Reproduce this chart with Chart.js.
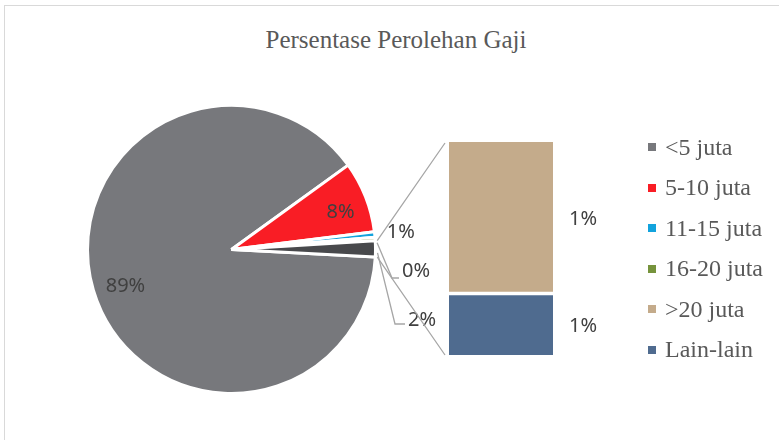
<!DOCTYPE html>
<html>
<head>
<meta charset="utf-8">
<script src="https://cdn.jsdelivr.net/npm/chart.js@4.4.0/dist/chart.umd.min.js"></script>
<style>
  body { margin: 0; background: #fff; overflow: hidden; }
  #wrap { position: relative; width: 779px; height: 440px; overflow: hidden; background: #fff; }
  #frame { position: absolute; left: 4px; top: 5px; width: 820px; height: 480px; border: 1px solid #d9d9d9; }
  #title { position: absolute; left: 0; width: 792px; top: 26px; text-align: center;
           font: 25px "Liberation Serif"; color: #595959; }
  #pieChart { position: absolute; left: 0; top: 0; }
  #barChart { position: absolute; left: 440px; top: 120px; }
  #legend { position: absolute; left: 648px; top: 127px; font: 24px "Liberation Serif"; color: #595959; }
  .item { height: 40.5px; display: flex; align-items: center; white-space: nowrap; }
  .sw { width: 8px; height: 8px; margin-right: 9px; flex: none; }
</style>
</head>
<body>
<div id="wrap">
  <div id="frame"></div>
  <div id="title">Persentase Perolehan Gaji</div>
  <canvas id="barChart" width="200" height="260"></canvas>
  <canvas id="pieChart" width="779" height="440"></canvas>
  <div id="legend"></div>
</div>
<script>
// data (percent of respondents)
const categories = ['<5 juta', '5-10 juta', '11-15 juta', '16-20 juta', '>20 juta', 'Lain-lain'];
const percentages = [89.2, 8.0, 0.6, 0.4, 1.28, 0.52];
const colors = ['#77787c', '#f91d25', '#12a3dd', '#76933c', '#c4ab8b', '#4f6b8f'];
const otherColor = '#48494c';
const mainCount = 4; // first four in the big pie, the rest go to the bar

const labelFont = '20px "Noto Sans"';
const labelColor = '#404040';
const lineColor = '#a6a6a6';

const pct = v => Math.round(v) + '%';

const pieValues = percentages.slice(0, mainCount);
const barValues = percentages.slice(mainCount);
const otherTotal = barValues.reduce((a, b) => a + b, 0);
pieValues.push(otherTotal);

// legend
const legendEl = document.getElementById('legend');
categories.forEach((c, i) => {
  const row = document.createElement('div');
  row.className = 'item';
  row.innerHTML = '<span class="sw" style="background:' + colors[i] + '"></span>';
  row.appendChild(document.createTextNode(c));
  legendEl.appendChild(row);
});

// secondary stacked bar
const barLabelPlugin = {
  id: 'barLabels',
  afterDatasetsDraw(chart) {
    const ctx = chart.ctx;
    ctx.save();
    ctx.font = labelFont;
    ctx.fillStyle = labelColor;
    ctx.textBaseline = 'middle';
    chart.data.datasets.forEach((ds, i) => {
      const bar = chart.getDatasetMeta(i).data[0];
      const p = bar.getProps(['x', 'y', 'base', 'width']);
      ctx.fillText(pct(ds.data[0]), p.x + p.width / 2 + 16, (p.y + p.base) / 2 + 2);
    });
    ctx.restore();
  }
};

const barChart = new Chart(document.getElementById('barChart'), {
  type: 'bar',
  data: {
    labels: ['Lainnya'],
    datasets: [
      { label: categories[5], data: [barValues[1]], backgroundColor: colors[5],
        borderColor: '#fff', borderWidth: { top: 2, bottom: 0, left: 0, right: 0 }, borderSkipped: false },
      { label: categories[4], data: [barValues[0]], backgroundColor: colors[4],
        borderColor: '#fff', borderWidth: { top: 0, bottom: 2, left: 0, right: 0 }, borderSkipped: false }
    ]
  },
  options: {
    responsive: false,
    animation: false,
    layout: { padding: { left: 9, right: 87, top: 22, bottom: 25 } },
    barPercentage: 1,
    categoryPercentage: 1,
    scales: {
      x: { stacked: true, display: false },
      y: { stacked: true, display: false, min: 0, max: otherTotal }
    },
    plugins: { legend: { display: false }, tooltip: { enabled: false } }
  },
  plugins: [barLabelPlugin]
});

// main pie: labels, leader lines and the lines to the bar
const pieLabelPlugin = {
  id: 'pieLabels',
  afterDatasetsDraw(chart) {
    const ctx = chart.ctx;
    const arcs = chart.getDatasetMeta(0).data;
    const vals = chart.data.datasets[0].data;
    const a0 = arcs[0].getProps(['x', 'y', 'outerRadius']);
    const cx = a0.x, cy = a0.y, R = a0.outerRadius;
    const at = (ang, r) => [cx + r * Math.cos(ang), cy + r * Math.sin(ang)];
    ctx.save();
    ctx.font = labelFont;
    ctx.fillStyle = labelColor;
    ctx.textBaseline = 'middle';

    // inside labels
    const nudge = [-0.049, 0.045];
    const rf = [0.78, 0.8];
    [0, 1].forEach(i => {
      const p = arcs[i].getProps(['startAngle', 'endAngle']);
      const [x, y] = at((p.startAngle + p.endAngle) / 2 + nudge[i], R * rf[i]);
      ctx.textAlign = 'center';
      ctx.fillText(pct(vals[i]), x, y);
    });

    // outside labels
    ctx.textAlign = 'left';
    ctx.strokeStyle = lineColor;
    ctx.lineWidth = 1.3;
    const mid = i => {
      const p = arcs[i].getProps(['startAngle', 'endAngle']);
      return (p.startAngle + p.endAngle) / 2;
    };
    // 11-15 juta
    let [x, y] = at(mid(2), R);
    ctx.fillText(pct(vals[2]), x + 12, y - 2);
    // 16-20 juta and the "other" slice, with leader lines
    const leaders = [
      { i: 3, ex: cx + 160.5, ey: cy + 28.5, len: 7, tx: 10, ty: -6.5 },
      { i: 4, ex: cx + 163.5, ey: cy + 74.5, len: 10, tx: 13, ty: -4 }
    ];
    leaders.forEach(l => {
      const [sx, sy] = at(mid(l.i), R + 2);
      ctx.beginPath();
      ctx.moveTo(sx, sy + 4);
      ctx.lineTo(l.ex, l.ey);
      ctx.lineTo(l.ex + l.len, l.ey);
      ctx.stroke();
      ctx.fillText(pct(vals[l.i]), l.ex + l.tx, l.ey + l.ty);
    });

    // connector lines to the bar
    const other = arcs[mainCount].getProps(['startAngle', 'endAngle']);
    const area = barChart.chartArea;
    const ox = barChart.canvas.offsetLeft, oy = barChart.canvas.offsetTop;
    const [ux, uy] = at(other.startAngle, R + 2);
    const [lx, ly] = at(other.endAngle, R + 2);
    ctx.beginPath();
    ctx.moveTo(ux, uy);
    ctx.lineTo(ox + area.left - 4, oy + area.top + 1);
    ctx.moveTo(lx, ly);
    ctx.lineTo(ox + area.left - 4, oy + area.bottom);
    ctx.stroke();
    ctx.restore();
  }
};

new Chart(document.getElementById('pieChart'), {
  type: 'pie',
  data: {
    labels: categories.slice(0, mainCount).concat(['Lainnya']),
    datasets: [{
      data: pieValues,
      backgroundColor: colors.slice(0, mainCount).concat([otherColor]),
      borderColor: '#fff',
      borderWidth: 3
    }]
  },
  options: {
    responsive: false,
    animation: false,
    rotation: 93,
    radius: 144,
    layout: { padding: { left: 0, right: 316, top: 59, bottom: 0 } },
    plugins: { legend: { display: false }, tooltip: { enabled: false } }
  },
  plugins: [pieLabelPlugin]
});
</script>
</body>
</html>
